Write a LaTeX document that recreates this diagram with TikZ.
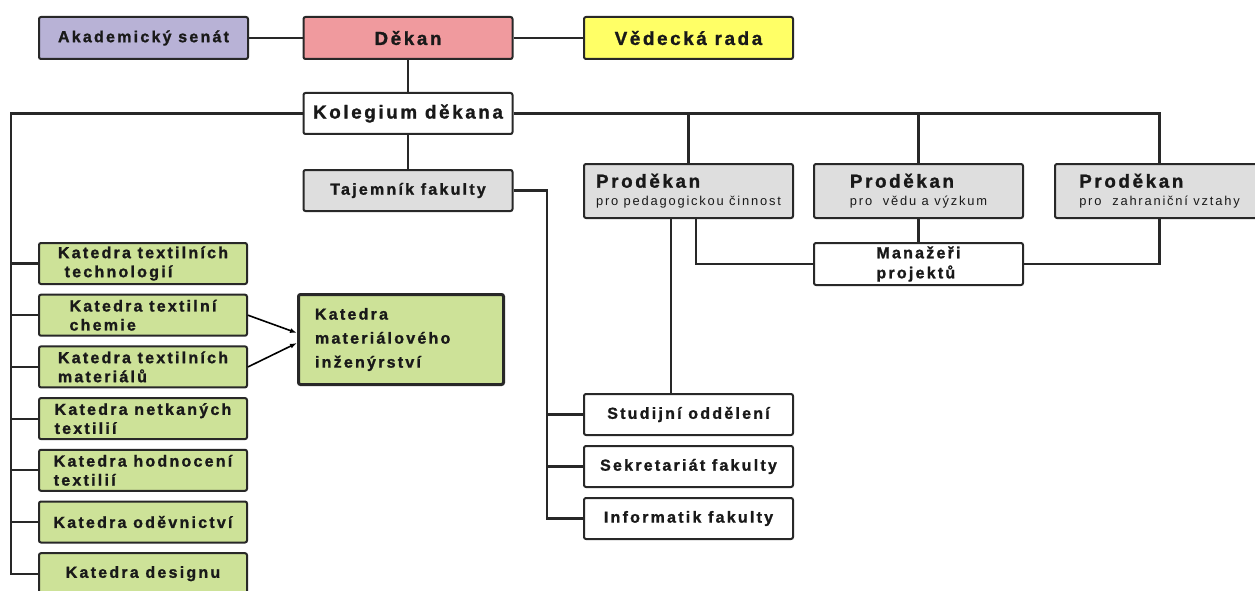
\documentclass[tikz,border=0pt]{standalone}
\usepackage{fontspec}
\setmainfont{Liberation Sans}[LetterSpace=14, BoldFeatures={FakeBold=1.3}]
\usepackage{tikz}
\usetikzlibrary{arrows.meta, positioning, calc}
\definecolor{senatlila}{RGB}{184,178,214}
\definecolor{dekanpink}{RGB}{240,154,158}
\definecolor{radayellow}{RGB}{255,255,102}
\definecolor{softgray}{RGB}{222,222,222}
\definecolor{katgreen}{RGB}{205,226,152}
\definecolor{framegray}{RGB}{40,40,40}
\definecolor{inkgray}{RGB}{25,25,25}

\begin{document}
\begin{tikzpicture}[x=1pt, y=-1pt,
    every node/.style={font=\bfseries\fontsize{16}{19}\selectfont, text=inkgray},
    orgbox/.style={draw=framegray, line width=2pt, rounded corners=2pt,
      minimum width=209pt, minimum height=42pt, inner sep=0pt, align=center},
    bigtext/.style={font=\bfseries\fontsize{18.8}{18}\selectfont},
    katbox/.style={orgbox, fill=katgreen, minimum width=208pt, minimum height=41pt, align=left},
    link/.style={draw=framegray, line width=2.2pt},
    arr/.style={draw=black, line width=1.6pt, -{Latex[length=7pt, width=5pt]}}]
  \useasboundingbox (0,0) rectangle (1255,591);

  % top row
  \node[orgbox, bigtext, fill=dekanpink] (dek) at (408,38) {Děkan};
  \node[orgbox, fill=senatlila] (sen) at (143.5,38) {Akademický senát};
  \node[orgbox, bigtext, fill=radayellow] (ved) at (688.5,38) {Vědecká rada};
  \node[orgbox, bigtext, fill=white, minimum height=41pt] (kol) at (408,113.5) {Kolegium děkana};
  \node[orgbox, fill=softgray, minimum height=41pt] (taj) at (408,190.5) {Tajemník fakulty};

  % prorectors
  \node[orgbox, bigtext, fill=softgray, minimum height=54pt, align=left] (pd1) at (688.5,191)
    {Proděkan\\{\mdseries\fontsize{12.9}{18}\selectfont pro pedagogickou činnost}};
  \node[orgbox, bigtext, fill=softgray, minimum height=54pt, align=left] (pd2) at (918.5,191)
    {Proděkan\\{\mdseries\fontsize{12.9}{18}\selectfont pro\ \ vědu a výzkum}};
  \node[orgbox, bigtext, fill=softgray, minimum height=54pt, align=left] (pd3) at (1159.5,191)
    {Proděkan\\{\mdseries\fontsize{12.9}{18}\selectfont pro\ \ zahraniční vztahy}};
  \node[orgbox, fill=white, align=left, font=\bfseries\fontsize{16}{20}\selectfont] (man) at (918.5,264) {Manažeři\\projektů};

  % offices
  \node[orgbox, fill=white, minimum height=41pt] (stu) at (688.5,414.5) {Studijní oddělení};
  \node[orgbox, fill=white, minimum height=41pt, below=9pt of stu] (sek) {Sekretariát fakulty};
  \node[orgbox, fill=white, minimum height=41pt, below=9pt of sek] (inf) {Informatik fakulty};

  % departments
  \node[katbox] (k1) at (143,263.5) {Katedra textilních\\\ technologií};
  \node[katbox, below=8.7pt of k1] (k2) {Katedra textilní\\chemie};
  \node[katbox, below=8.7pt of k2] (k3) {Katedra textilních\\materiálů};
  \node[katbox, below=8.7pt of k3] (k4) {Katedra netkaných\\textilií};
  \node[katbox, below=8.7pt of k4] (k5) {Katedra hodnocení\\textilií};
  \node[katbox, below=8.7pt of k5] (k6) {Katedra oděvnictví};
  \node[katbox, below=8.7pt of k6] (k7) {Katedra designu};
  \node[katbox, line width=3pt, minimum width=205pt, minimum height=90pt, text width=172pt,
    font=\bfseries\fontsize{16}{24}\selectfont] (kmi) at (401,339.5)
    {Katedra\\materiálového\\inženýrství};

  % connectors
  \draw[link] (sen) -- (dek);
  \draw[link] (dek) -- (ved);
  \draw[link] (dek) -- (kol);
  \draw[link] (kol) -- (taj);
  \coordinate (kbus) at (11,113.5);
  \draw[link] (kol.west) -- (kbus) |- (k7.west);
  \foreach \k in {1,...,6}
    \draw[link] (kbus |- k\k.west) -- (k\k.west);
  \draw[link] (kol.east) -| (pd3.north);
  \draw[link] (pd1.north) -- (pd1.north |- kol.east);
  \draw[link] (pd2.north) -- (pd2.north |- kol.east);
  \coordinate (tbus) at (547,190.5);
  \draw[link] (taj.east) -- (tbus) |- (inf.west);
  \draw[link] (tbus |- stu.west) -- (stu.west);
  \draw[link] (tbus |- sek.west) -- (sek.west);
  \draw[link] ([xshift=-17.5pt]pd1.south) -- ([xshift=-17.5pt]stu.north);
  \draw[link] ([xshift=7.5pt]pd1.south) |- (man.west);
  \draw[link] (pd2) -- (man);
  \draw[link] (pd3.south) |- (man.east);
  \draw[arr] (k2.east) -- ([yshift=6.5pt]kmi.west);
  \draw[arr] (k3.east) -- ([yshift=-3.5pt]kmi.west);
\end{tikzpicture}
\end{document}
